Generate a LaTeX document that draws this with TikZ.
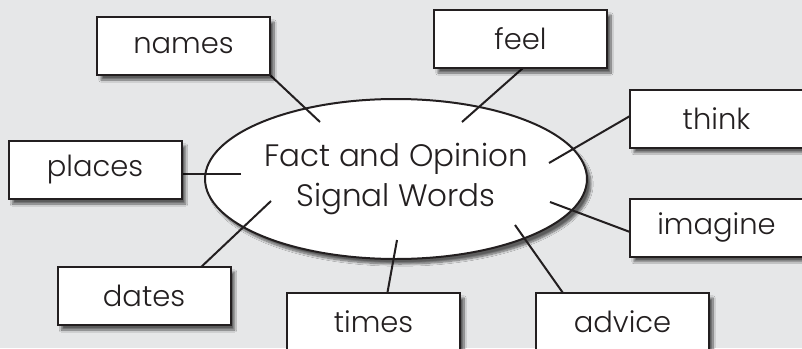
\documentclass[tikz,border=0pt]{standalone}
\usepackage{fontspec}
\setmainfont{Poppins Light}
\usetikzlibrary{shapes.geometric, shadows.blur}
\definecolor{bggray}{HTML}{E6E7E8}
\definecolor{ink}{HTML}{231F20}

\begin{document}
\begin{tikzpicture}[x=1pt, y=-1pt,
        word/.style={rectangle, draw=ink, line width=2pt, fill=white, text=ink,
            minimum width=173pt, minimum height=58pt, font=\fontsize{29}{34}\selectfont,
            blur shadow={shadow xshift=4pt, shadow yshift=-5pt, shadow blur steps=10, shadow opacity=60}},
        link/.style={draw=ink, line width=2pt}]
        \useasboundingbox (0,0) rectangle (802,348);
        \fill[bggray] (0,0) rectangle (802,348);

        \node[ellipse, draw=ink, line width=2pt, fill=white, text=ink, align=center,
            minimum width=366pt, minimum height=160pt, font=\fontsize{31}{40}\selectfont,
            blur shadow={shadow xshift=4pt, shadow yshift=-5pt, shadow blur steps=10, shadow opacity=60}]
            at (396,179) (signal) {Fact and Opinion\\Signal Words};

        \coordinate (c1) at (320,122);
        \coordinate (c2) at (462,122);
        \coordinate (c3) at (549,163);
        \coordinate (c4) at (241,174);
        \coordinate (c5) at (550,202);
        \coordinate (c6) at (271,201);
        \coordinate (c7) at (397,240);
        \coordinate (c8) at (515,225);

        \draw[link] (c1) -- (270,75);
        \draw[link] (c2) -- (523,68);
        \draw[link] (c3) -- (630,116);
        \draw[link] (c4) -- (182,174);
        \draw[link] (c5) -- (630,232);
        \draw[link] (c6) -- (199,269);
        \draw[link] (c7) -- (387,295);
        \draw[link] (c8) -- (563,293);

        \node[word] at (183.5,46)  (names)   {names};
        \node[word] at (520.5,39)  (feel)    {feel};
        \node[word] at (716.5,118.5) (think) {think};
        \node[word] at (95,170)    (places)  {places};
        \node[word] at (716.5,227.5) (imagine) {imagine};
        \node[word] at (144,296)   (dates)   {dates};
        \node[word] at (373.5,322) (times)   {times};
        \node[word] at (622.5,322) (advice)  {advice};
    \end{tikzpicture}
\end{document}
